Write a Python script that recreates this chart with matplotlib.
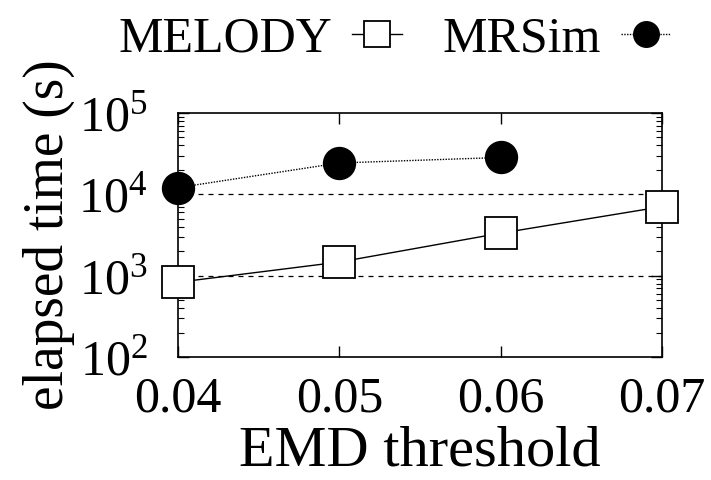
import matplotlib.pyplot as plt
from matplotlib.ticker import LogLocator, NullFormatter

# data
thresholds = [0.04, 0.05, 0.06, 0.07]
melody_time = [830, 1470, 3330, 7050]
mrsim_thresholds = [0.04, 0.05, 0.06]
mrsim_time = [12100, 24300, 28400]
x_ticks = [0.04, 0.05, 0.06, 0.07]
x_labels = ["0.04", "0.05", "0.06", "0.07"]

plt.rcParams['font.family'] = ['Liberation Serif', 'DejaVu Serif']
plt.rcParams['mathtext.fontset'] = 'custom'
plt.rcParams['mathtext.rm'] = 'Liberation Serif'

fig = plt.figure(figsize=(7.11, 4.8), dpi=100)
ax = fig.add_axes([178/711, 1 - 357/480, (662-178)/711, (357-113)/480])

ax.plot(thresholds, melody_time, color='black', lw=1.0, marker='s', ms=23,
        mfc='white', mec='black', mew=1.3, label='MELODY', clip_on=False, zorder=3)
ax.plot(mrsim_thresholds, mrsim_time, color='black', lw=1.0, ls=(0, (1, 1)),
        marker='o', ms=23, mfc='black', mec='black', label='MRSim',
        clip_on=False, zorder=3)

ax.set_yscale('log')
ax.set_ylim(1e2, 1e5)
ax.set_xlim(0.04, 0.07)
ax.set_xticks(x_ticks)
ax.set_xticklabels(x_labels)
ax.yaxis.set_major_locator(LogLocator(base=10, numticks=10))
ax.yaxis.set_minor_locator(LogLocator(base=10, subs=range(2, 10), numticks=20))
ax.yaxis.set_minor_formatter(NullFormatter())

# gnuplot-like grid on major y only
for v in [1e3, 1e4]:
    ax.axhline(v, color='black', lw=0.9, ls=(0, (4, 4)), zorder=1)

ax.tick_params(which='both', direction='in', top=True, right=True, labelsize=36)
ax.tick_params(axis='x', pad=14)
ax.tick_params(axis='y', pad=22)
ax.tick_params(which='major', length=8, width=1)
ax.tick_params(which='minor', length=4, width=0.8)
for s in ax.spines.values():
    s.set_linewidth(1.2)

ax.set_xlabel('EMD threshold', fontsize=42, labelpad=2)
ax.set_ylabel('elapsed time (s)', fontsize=40, labelpad=2)

fig.legend(loc='upper center', bbox_to_anchor=(0.555, 1.06), ncol=2,
           frameon=False, markerfirst=False, fontsize=36, handlelength=1.0,
           handletextpad=0.4, columnspacing=0.8, markerscale=0.8)

fig.savefig('out.png', dpi=100)
